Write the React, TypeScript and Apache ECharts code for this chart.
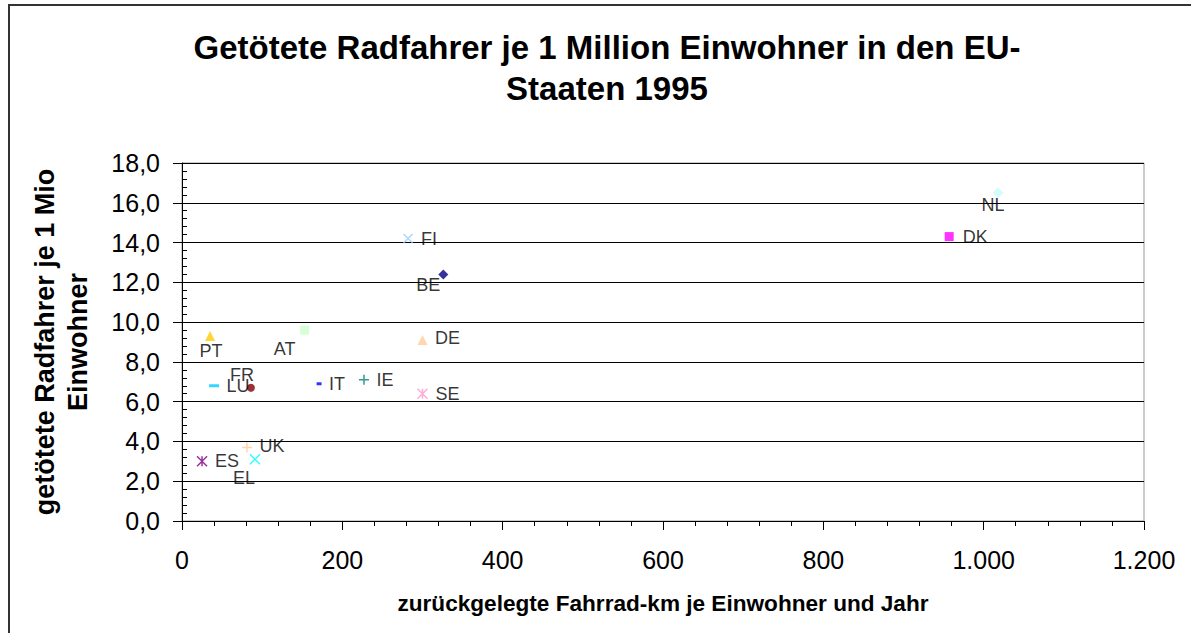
import React, { useEffect, useRef } from "react";
import * as echarts from "echarts";

const countries = ["NL", "DK", "FI", "BE", "AT", "PT", "DE", "FR", "LU", "IT", "IE", "SE", "UK", "ES", "EL"];
const kmPerInhabitant = [1018, 957, 282, 326, 153, 35, 300, 86, 40, 171, 227, 300, 81, 25, 91];
const killedPerMillion = [16.5, 14.3, 14.2, 12.4, 9.6, 9.3, 9.1, 6.7, 6.8, 6.9, 7.1, 6.4, 3.7, 3.0, 3.1];

const titleLines = ["Getötete Radfahrer je 1 Million Einwohner in den EU-", "Staaten 1995"];
const yTitleLines = ["getötete Radfahrer je 1 Mio", "Einwohner"];
const xTitle = "zurückgelegte Fahrrad-km je Einwohner und Jahr";

const X_SYM = "path://M0,0L10,10M10,0L0,10";
const PLUS_SYM = "path://M0,5L10,5M5,0L5,10";
const STAR_SYM = "path://M0,0L10,10M10,0L0,10M5,0L5,10";

// per-country styling (kept apart from the data)
const colors = ["#c8fbfb", "#ff00ff", "#99ccff", "#000080", "#ccffcc", "#ffcc00", "#ffcc99", "#800000", "#00ccff", "#0000ff", "#008080", "#ff99cc", "#ffcc99", "#800080", "#00ffff"];
const symbols = ["diamond", "rect", X_SYM, "diamond", "rect", "triangle", "triangle", "circle", "rect", "rect", PLUS_SYM, STAR_SYM, PLUS_SYM, STAR_SYM, X_SYM];
const sizes: any[] = [11, 9, 9, 10, 9, 10, 10, 8, [10, 3], [5, 3], 10, 10, 10, 10, 10];
const stroked = [false, false, true, false, false, false, false, false, false, false, true, true, true, true, true];
const labelOffsets = [[-5, 12], [26, 0], [21, 0], [-15, 11], [-20, 19], [1, 15], [25, -2], [-9, -13], [24, 0], [18, 0], [21, 0], [25, 0], [25, -1], [25, 0], [-11, 19]];

const FONT = "'Liberation Sans', Arial, sans-serif";

export default function App() {
  const ref = useRef<HTMLDivElement>(null);
  useEffect(() => {
    if (!ref.current) return;
    const chart = echarts.init(ref.current, null, { renderer: "svg" });
    const series = countries.map((c, i) => ({
      type: "scatter",
      name: c,
      data: [[kmPerInhabitant[i], killedPerMillion[i]]],
      symbol: symbols[i],
      symbolSize: sizes[i],
      itemStyle: stroked[i]
        ? { color: "none", borderColor: colors[i], borderWidth: 1.5 }
        : { color: colors[i] },
      label: {
        show: true,
        formatter: c,
        position: "inside",
        offset: labelOffsets[i],
        color: "#000",
        fontSize: 18,
        fontFamily: FONT,
        textBorderWidth: 0,
      },
      emphasis: { disabled: true },
      z: 3,
    }));
    chart.setOption({
      animation: false,
      backgroundColor: "#fff",
      textStyle: { fontFamily: FONT },
      title: {
        text: titleLines.join("\n"),
        left: 607,
        top: 27,
        textAlign: "center",
        padding: 0,
        textStyle: { fontSize: 33, fontWeight: "bold", lineHeight: 41, color: "#000", fontFamily: FONT },
      },
      graphic: [
        {
          type: "rect",
          shape: { x: 9, y: 5, width: 1300, height: 800 },
          style: { fill: "none", stroke: "#333", lineWidth: 2 },
          silent: true,
        },
      ],
      grid: {
        left: 182,
        right: 47,
        top: 163,
        bottom: 112,
        show: true,
        borderColor: "#999",
        borderWidth: 1,
      },
      xAxis: {
        type: "value",
        min: 0,
        max: 1200,
        interval: 200,
        name: xTitle,
        nameLocation: "middle",
        nameGap: 71,
        nameTextStyle: { fontSize: 22.6, fontWeight: "bold", color: "#000", fontFamily: FONT },
        axisLine: { show: true, onZero: false, lineStyle: { color: "#000", width: 1 } },
        axisTick: { show: true, length: 9, lineStyle: { color: "#000" } },
        minorTick: { show: true, splitNumber: 5, length: 5, lineStyle: { color: "#000" } },
        axisLabel: {
          fontSize: 25,
          color: "#000",
          margin: 26,
          fontFamily: FONT,
          formatter: (v: number) => String(v).replace(/\B(?=(\d{3})+(?!\d))/g, "."),
        },
        splitLine: { show: false },
      },
      yAxis: [
        {
          type: "value",
          min: 0,
          max: 18,
          interval: 2,
          name: yTitleLines.join("\n"),
          nameLocation: "middle",
          nameGap: 88,
          nameTextStyle: { fontSize: 27, fontWeight: "bold", color: "#000", lineHeight: 33, fontFamily: FONT },
          axisLine: { show: true, onZero: false, lineStyle: { color: "#000", width: 1 } },
          axisTick: { show: true, length: 9, lineStyle: { color: "#000" } },
          axisLabel: {
            fontSize: 25,
            color: "#000",
            margin: 22,
            fontFamily: FONT,
            formatter: (v: number) => v.toFixed(1).replace(".", ","),
          },
          splitLine: { show: true, lineStyle: { color: "#000", width: 1 } },
        },
        {
          type: "value",
          min: 0,
          max: 18,
          interval: 2,
          position: "left",
          offset: 0,
          axisLine: { show: false },
          axisTick: { show: true, inside: true, length: 5, lineStyle: { color: "#000" } },
          minorTick: { show: true, splitNumber: 5, length: 5, lineStyle: { color: "#000" } },
          axisLabel: { show: false },
          splitLine: { show: false },
        },
      ],
      series,
    });
    return () => chart.dispose();
  }, []);
  return (
    <div
      ref={ref}
      style={{ position: "fixed", left: 0, top: 0, width: 1191, height: 633, background: "#fff" }}
    />
  );
}
